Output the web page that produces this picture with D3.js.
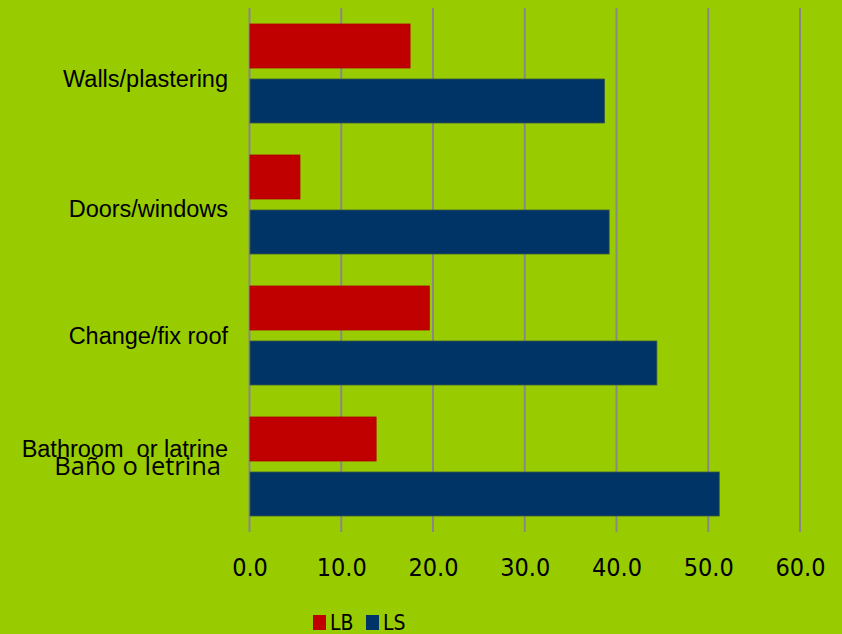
<!DOCTYPE html>
<html><head><meta charset="utf-8">
<script src="https://cdn.jsdelivr.net/npm/d3@7"></script>
<style>html,body{margin:0;padding:0;background:#99CC00;}svg{display:block;}</style>
</head><body>
<svg id="chart" width="842" height="634"></svg>
<script>
const categories = ["Walls/plastering", "Doors/windows", "Change/fix roof", "Bathroom  or latrine"];
const subLabels = ["", "", "", "Baño o letrina"];
const series = ["LB", "LS"];
const lbValues = [17.5, 5.5, 19.6, 13.8];
const lsValues = [38.7, 39.2, 44.4, 51.2];
const tickValues = [0, 10, 20, 30, 40, 50, 60];
const colors = {LB: "#C00000", LS: "#003366"};

const svg = d3.select("#chart");
svg.append("rect").attr("width", 842).attr("height", 634).attr("fill", "#99CC00");

const x = d3.scaleLinear().domain([0, 60]).range([249.5, 800]);
const y = d3.scaleBand().domain(categories).range([8, 532]).padding(0);
const ySub = d3.scaleBand().domain(series).range([16, 115]).paddingInner(0.2);

const axis = d3.axisBottom(x).tickValues(tickValues).tickFormat(d3.format(".1f")).tickSize(0);
const gAxis = svg.append("g").attr("transform", "translate(0,576)").call(axis);
gAxis.select(".domain").remove();
gAxis.selectAll("text").attr("dy", 0).attr("y", 0)
  .attr("font-family", "'Liberation Sans Narrow','DejaVu Sans Condensed',sans-serif")
  .attr("font-size", 25).attr("fill", "#000");

svg.append("g").selectAll("line").data(tickValues).join("line")
  .attr("x1", d => x(d)).attr("x2", d => x(d))
  .attr("y1", 8).attr("y2", 532)
  .attr("stroke", "#888888").attr("stroke-width", 2);

const data = categories.map((c, i) => ({cat: c, LB: lbValues[i], LS: lsValues[i]}));
const gCat = svg.append("g").selectAll("g").data(data).join("g")
  .attr("transform", d => `translate(0,${y(d.cat)})`);
gCat.selectAll("rect").data(d => series.map(s => ({s, v: d[s]}))).join("rect")
  .attr("x", x(0) + 0.5)
  .attr("y", d => ySub(d.s))
  .attr("width", d => x(d.v) - x(0) - 0.5)
  .attr("height", ySub.bandwidth())
  .attr("fill", d => colors[d.s])
  .attr("stroke", d => d.s === "LB" ? "#b00000" : "#3a5a40")
  .attr("stroke-width", 0.8);

const labelOffset = [13.5, 12.5, 8, -9.5];
svg.append("g").selectAll("text").data(categories).join("text")
  .attr("x", 228)
  .attr("y", (d, i) => y(d) + y.bandwidth() / 2 + labelOffset[i])
  .attr("text-anchor", "end")
  .attr("font-family", "'Liberation Sans',Arial,sans-serif")
  .attr("font-size", 23.5)
  .attr("fill", "#000")
  .style("white-space", "pre")
  .text(d => d);

svg.append("g").selectAll("text").data(subLabels.filter(d => d)).join("text")
  .attr("x", 221)
  .attr("y", (d) => y(categories[subLabels.indexOf(d)]) + y.bandwidth() / 2 + 8.5)
  .attr("text-anchor", "end")
  .attr("font-family", "'Open Sans',sans-serif")
  .attr("font-size", 25.5)
  .attr("fill", "#000")
  .text(d => d);

const legend = svg.append("g");
const legendX = {LB: 313, LS: 366};
series.forEach(s => {
  legend.append("rect").attr("x", legendX[s]).attr("y", 615).attr("width", 13).attr("height", 15).attr("fill", colors[s]);
  legend.append("text").attr("x", legendX[s] + 17).attr("y", 630)
    .attr("font-family", "'Liberation Sans Narrow','DejaVu Sans Condensed',sans-serif")
    .attr("font-size", 21).attr("fill", "#000").text(s);
});
</script>
</body></html>
